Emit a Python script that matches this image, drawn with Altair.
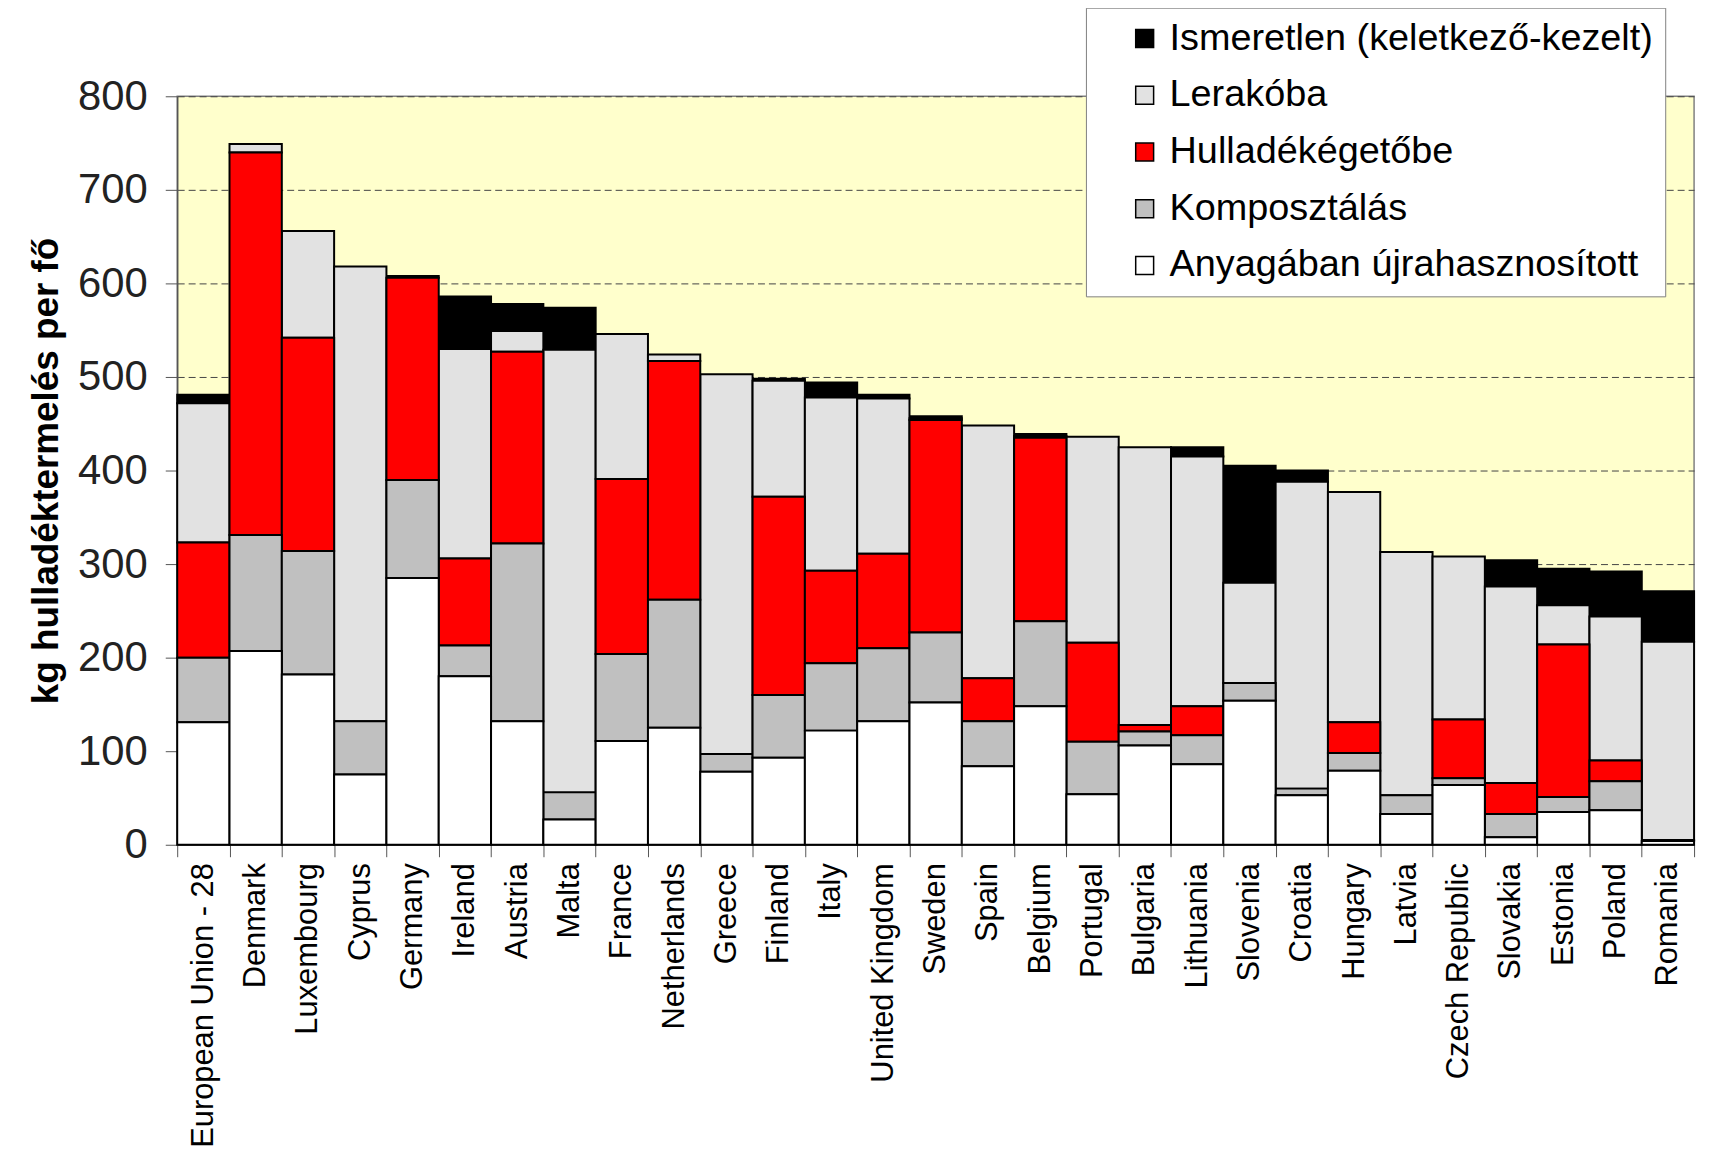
import altair as alt
import pandas as pd

countries = ["European Union - 28", "Denmark", "Luxembourg", "Cyprus", "Germany", "Ireland",
             "Austria", "Malta", "France", "Netherlands", "Greece", "Finland", "Italy",
             "United Kingdom", "Sweden", "Spain", "Belgium", "Portugal", "Bulgaria",
             "Lithuania", "Slovenia", "Croatia", "Hungary", "Latvia", "Czech Republic",
             "Slovakia", "Estonia", "Poland", "Romania"]

anyag      = [131, 207, 182, 75, 285, 180, 132, 27, 111, 125, 78, 93, 122, 132, 152, 84, 148, 54, 106, 86, 154, 53, 79, 33, 64, 8, 35, 37, 4]
kompost    = [69, 124, 132, 57, 105, 33, 190, 29, 93, 137, 19, 67, 72, 78, 75, 48, 91, 56, 15, 31, 19, 7, 19, 20, 7, 25, 16, 31, 1]
egeto      = [123, 409, 228, 0, 216, 93, 205, 0, 187, 255, 0, 212, 99, 101, 227, 46, 196, 106, 7, 31, 0, 0, 33, 0, 63, 33, 163, 22, 0]
lerako     = [149, 9, 114, 486, 0, 224, 22, 473, 155, 7, 406, 124, 185, 166, 2, 270, 2, 220, 297, 267, 107, 328, 246, 260, 174, 210, 42, 154, 212]
ismeretlen = [9, 0, 0, 0, 2, 56, 29, 45, 0, 0, 0, 2, 16, 4, 2, 0, 2, 0, 0, 10, 125, 12, 0, 0, 0, 28, 39, 48, 54]

series_names = ["Ismeretlen (keletkező-kezelt)", "Lerakóba", "Hulladékégetőbe",
                "Komposztálás", "Anyagában újrahasznosított"]
series_values = [ismeretlen, lerako, egeto, kompost, anyag]
series_colors = ["#000000", "#e2e2e2", "#ff0000", "#c0c0c0", "#ffffff"]
stack_rank = [4, 3, 2, 1, 0]

rows = []
for name, vals, rank in zip(series_names, series_values, stack_rank):
    for c, v in zip(countries, vals):
        if v > 0:
            rows.append({"country": c, "series": name, "value": v, "rank": rank})
df = pd.DataFrame(rows)

FONT = "Liberation Sans"

chart = alt.Chart(df).mark_bar(stroke="black", strokeWidth=2, opacity=1).encode(
    x=alt.X("country:N", sort=countries, title=None,
            scale=alt.Scale(paddingInner=0, paddingOuter=0),
            axis=alt.Axis(labelAngle=-90, labelFontSize=31, labelColor="black",
                          labelAlign="right", labelBaseline="middle",
                          tickBand="extent", tickSize=12, tickColor="#555",
                          domainColor="#555", domainWidth=1.5, labelPadding=6,
                          labelLimit=400)),
    y=alt.Y("value:Q", stack="zero",
            scale=alt.Scale(domain=[0, 800], nice=False),
            axis=alt.Axis(values=list(range(0, 801, 100)),
                          title="kg hulladéktermelés per fő",
                          titleFontSize=37, titleFontWeight="bold", titleColor="black",
                          titlePadding=12,
                          labelFontSize=42, labelColor="#222", labelPadding=18,
                          tickSize=12, tickColor="#555", domainColor="#555",
                          domainWidth=1.5,
                          grid=True, gridColor="#444", gridDash=[7, 4], gridWidth=1)),
    color=alt.Color("series:N",
                    scale=alt.Scale(domain=series_names, range=series_colors),
                    legend=alt.Legend(title=None, orient="none", legendX=913, legendY=-89,
                                      fillColor="white", strokeColor="#808080",
                                      padding=12, symbolType="square", symbolSize=324,
                                      symbolOffset=28,
                                      symbolStrokeColor="black", symbolStrokeWidth=1.5,
                                      symbolOpacity=1, labelFontSize=38, labelColor="black",
                                      labelLimit=800, rowPadding=19, labelOffset=6)),
    order=alt.Order("rank:Q", sort="ascending"),
).properties(
    width=1524, height=752,
    autosize=alt.AutoSizeParams(type="none"),
    padding={"left": 170, "top": 86, "right": 17, "bottom": 310},
).configure(font=FONT).configure_view(fill="#FFFFCC", stroke="#808080", strokeWidth=1.5)

chart.save("out.html", embed_options={"renderer": "svg", "actions": False})
